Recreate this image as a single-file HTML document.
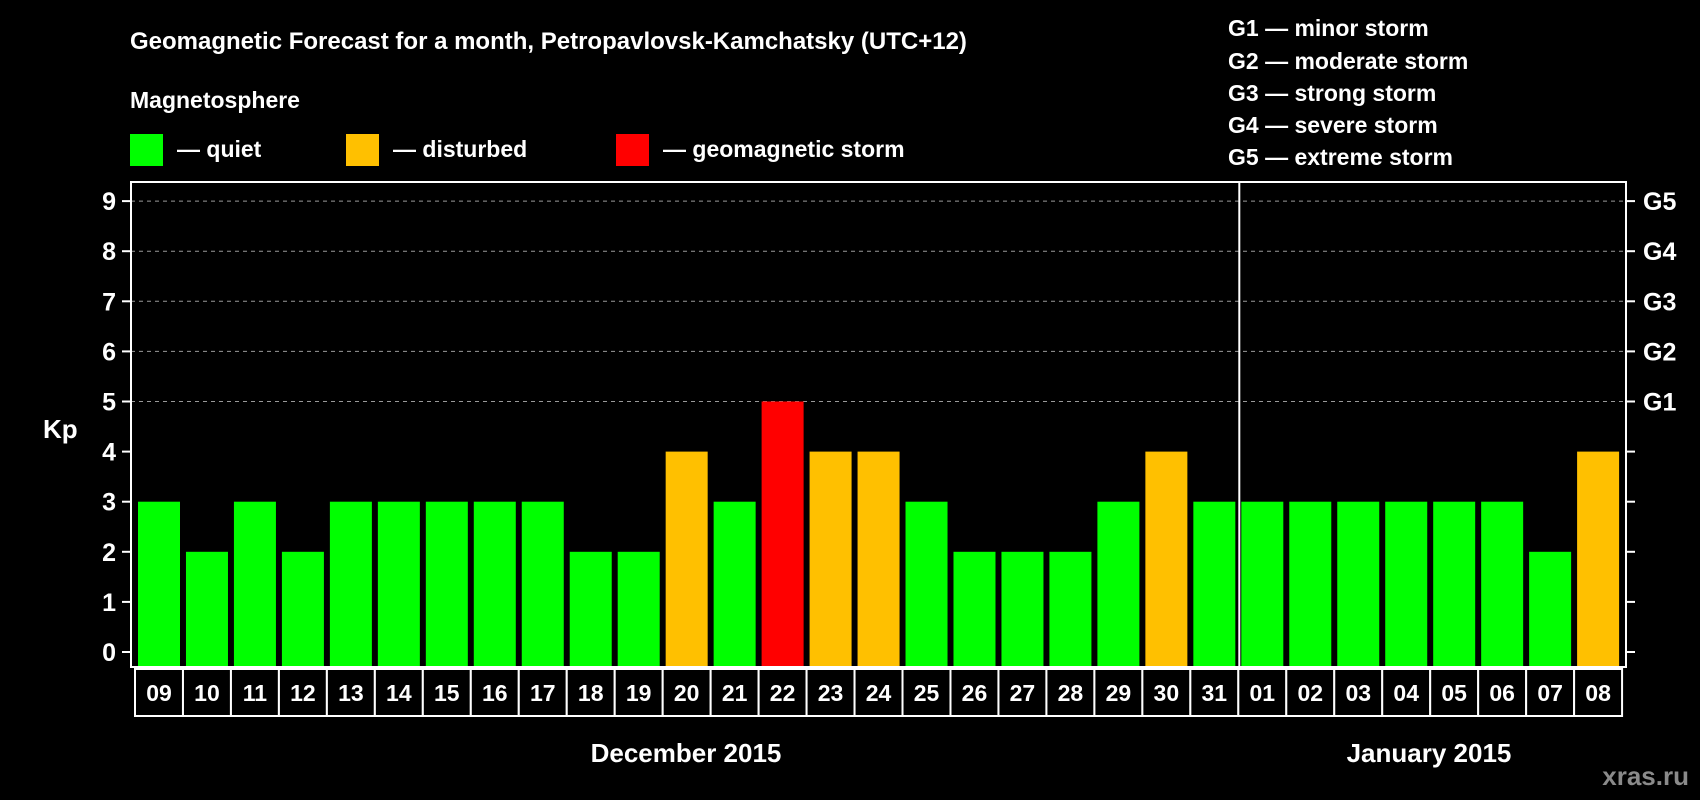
<!DOCTYPE html>
<html><head><meta charset="utf-8">
<style>
html,body{margin:0;padding:0;background:#000;}
svg{display:block;font-family:"Liberation Sans",Arial,sans-serif;font-weight:bold;}
</style></head>
<body>
<svg id="chart" width="1700" height="800" viewBox="0 0 1700 800">
<rect width="1700" height="800" fill="#000"/>
<text x="130" y="49" fill="#fff" font-size="24">Geomagnetic Forecast for a month, Petropavlovsk-Kamchatsky (UTC+12)</text>
<text x="130" y="108" fill="#fff" font-size="23">Magnetosphere</text>
<g><rect x="130" y="134" width="33" height="32" fill="#00ff00"/><text x="177" y="157" fill="#fff" font-size="23">— quiet</text></g>
<g><rect x="346" y="134" width="33" height="32" fill="#ffc000"/><text x="393" y="157" fill="#fff" font-size="23">— disturbed</text></g>
<g><rect x="616" y="134" width="33" height="32" fill="#ff0000"/><text x="663" y="157" fill="#fff" font-size="23">— geomagnetic storm</text></g>
<g fill="#fff" font-size="23">
<text x="1228" y="36">G1 — minor storm</text>
<text x="1228" y="69">G2 — moderate storm</text>
<text x="1228" y="101">G3 — strong storm</text>
<text x="1228" y="133">G4 — severe storm</text>
<text x="1228" y="165">G5 — extreme storm</text>
</g>
<text x="43" y="438" fill="#fff" font-size="26">Kp</text>
<g id="grid"></g><g id="bars"></g><g id="axes"></g><g id="dates"></g>
<text x="686" y="762" fill="#fff" font-size="26" text-anchor="middle">December 2015</text>
<text x="1429" y="762" fill="#fff" font-size="26" text-anchor="middle">January 2015</text>
<text x="1689" y="785" fill="#8a8a8a" font-size="26" text-anchor="end">xras.ru</text>
</svg>
<script>
const days = ["09","10","11","12","13","14","15","16","17","18","19","20","21","22","23","24","25","26","27","28","29","30","31","01","02","03","04","05","06","07","08"];
const kpValues = [3,2,3,2,3,3,3,3,3,2,2,4,3,5,4,4,3,2,2,2,3,4,3,3,3,3,3,3,3,2,4];
const yTicks = [0,1,2,3,4,5,6,7,8,9];
const gLabels = ["","","","","","G1","G2","G3","G4","G5"];
const monthBreakIndex = 23;

const NS="http://www.w3.org/2000/svg";
const L=131,R=1626,T=182,B=667,y0=652,unit=50.1,x0=135,pitch=47.97,bw=42;
const yS=v=>y0-v*unit;
const xS=i=>x0+i*pitch;
function mk(t,a,p){const e=document.createElementNS(NS,t);for(const k in a)e.setAttribute(k,a[k]);p.appendChild(e);return e;}
const grid=document.getElementById('grid'),bars=document.getElementById('bars'),axes=document.getElementById('axes'),dates=document.getElementById('dates');
yTicks.forEach(v=>{
  if(v>=5){const g=mk('line',{x1:L,x2:R,y1:yS(v),y2:yS(v),stroke:'#999','stroke-dasharray':'4 4','stroke-width':1},grid);
  
  }
  const t1=mk('line',{x1:L-9,x2:L,y1:yS(v),y2:yS(v),stroke:'#fff','stroke-width':2},axes);
  
  
  const t2=mk('line',{x1:R,x2:R+9,y1:yS(v),y2:yS(v),stroke:'#fff','stroke-width':2},axes);
  
  
  const l=mk('text',{x:116,y:yS(v)+9,fill:'#fff','font-size':25,'text-anchor':'end'},axes);l.textContent=v;
  
  
  if(gLabels[v]){const g=mk('text',{x:1643,y:yS(v)+9,fill:'#fff','font-size':25},axes);g.textContent=gLabels[v];
  
  }
});
kpValues.forEach((v,i)=>{
  const c=v>=5?'#ff0000':(v>=4?'#ffc000':'#00ff00');
  const r=mk('rect',{x:xS(i)+3,y:yS(v),width:bw,height:y0-yS(v)+14,fill:c},bars);
  
  
  const box=mk('rect',{x:xS(i),y:669,width:pitch,height:47,fill:'#000',stroke:'#fff','stroke-width':2},dates);
  
  
  const t=mk('text',{x:xS(i)+pitch/2,y:701,fill:'#fff','font-size':23,'text-anchor':'middle'},dates);t.textContent=days[i];
  
  
});
const frame=mk('rect',{x:L,y:T,width:R-L,height:B-T,fill:'none',stroke:'#fff','stroke-width':2},axes);


const dx=xS(monthBreakIndex)+1;
const div=mk('line',{x1:dx,x2:dx,y1:T,y2:B,stroke:'#fff','stroke-width':2},axes);


</script>
</body></html>
